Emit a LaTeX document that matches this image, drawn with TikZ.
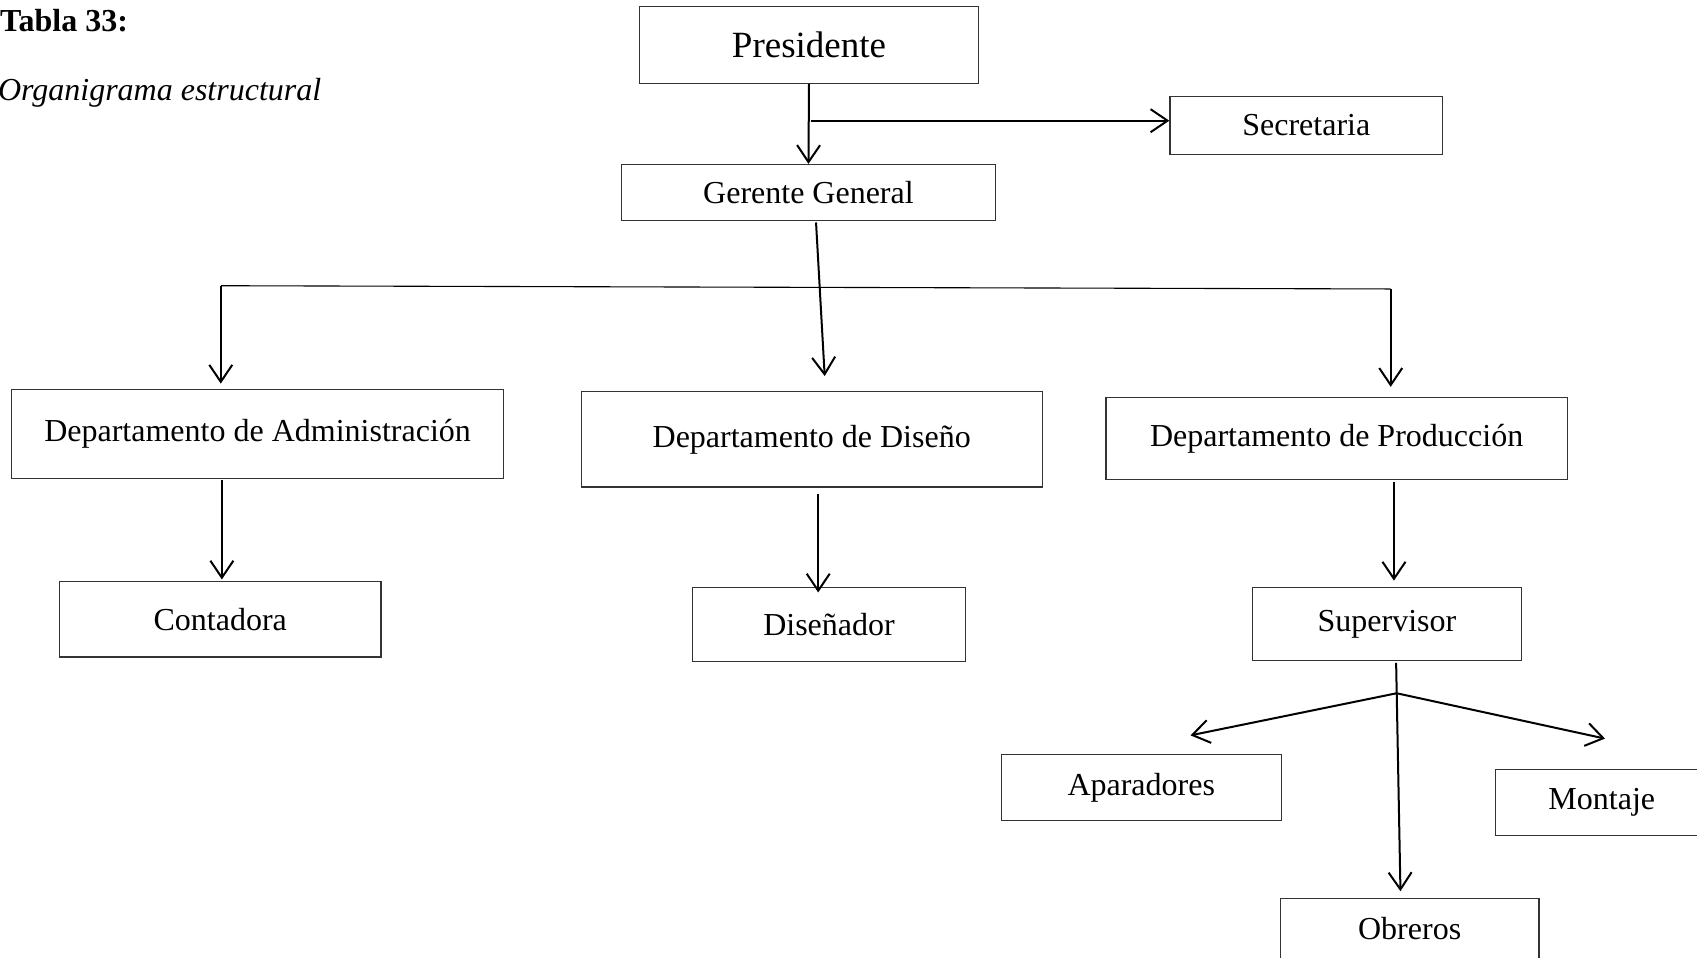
\documentclass[tikz,border=0pt]{standalone}
\usepackage{fontspec}
\setmainfont{Liberation Serif}
\usetikzlibrary{arrows.meta,calc}
\tikzset{
  box/.style={draw=black!80, line width=1.2pt, inner sep=0pt, align=center,
    font=\fontsize{32}{38}\selectfont},
  arr/.style={draw=black, line width=2pt,
    -{Straight Barb[length=17pt,width=23pt,line width=2pt]}},
  plainline/.style={draw=black, line width=2pt},
  barline/.style={draw=black, line width=1.1pt},
  titlebold/.style={font=\fontsize{32}{38}\selectfont\bfseries, inner sep=0pt},
  titleital/.style={font=\fontsize{32}{38}\selectfont\itshape, inner sep=0pt}
}
\begin{document}
\begin{tikzpicture}[x=1.0823pt, y=-1.0823pt]
\useasboundingbox (0,0) rectangle (1568,885);

% titles
\node[titlebold, anchor=base west] (t1) at (0,29) {Tabla 33:};
\node[titleital, anchor=base west] (t2) at (-2,93) {Organigrama estructural};

% boxes
\node[box, minimum width=338.8pt, minimum height=76.8pt,
      font=\fontsize{37}{44}\selectfont] (pres) at (747.5,41.5) {Presidente};
\node[box, minimum width=272.7pt, minimum height=58.4pt] (sec) at (1207,116) {Secretaria};
\node[box, minimum width=374.5pt, minimum height=56.3pt] (ger) at (747,178) {Gerente General};
\node[box, minimum width=491.4pt, minimum height=88.7pt] (adm) at (238,401) {Departamento de Administración};
\node[box, minimum width=461.1pt, minimum height=95.2pt] (dis) at (750,406) {Departamento de Diseño};
\node[box, minimum width=461.1pt, minimum height=82.3pt] (prod) at (1235,405) {Departamento de Producción};
\node[box, minimum width=321.4pt, minimum height=75.8pt] (cont) at (203.5,572) {Contadora};
\node[box, minimum width=272.7pt, minimum height=73.6pt] (dnr) at (766,577) {Diseñador};
\node[box, minimum width=269.5pt, minimum height=72.5pt] (sup) at (1281.5,576.5) {Supervisor};
\node[box, minimum width=280.3pt, minimum height=66.0pt] (apa) at (1054.5,727.5) {Aparadores};
\node[box, minimum width=212.1pt, minimum height=66.0pt] (mon) at (1480,741.5) {Montaje};
\node[box, minimum width=258.7pt, minimum height=60.6pt] (obr) at (1302.5,858) {Obreros};

% connectors
\draw[arr] (pres.south) -- (ger.north);
\coordinate (jS) at ($(pres.south)+(2,34)$);
\draw[arr] (jS) -- (jS -| sec.west);

\draw[arr] ($(ger.south)+(7,1)$) -- ($(dis.north)+(12,-14)$);

\coordinate (barL) at (204,264);
\coordinate (barR) at (1285,267);
\draw[barline] (barL) -- (barR);
\draw[arr] (barL) -- ($(barL |- adm.north)+(0,-5)$);
\draw[arr] (barR) -- ($(barR |- prod.north)+(0,-9)$);

\draw[arr] ($(adm.south)+(-33,1)$) -- ($(cont.north)+(1.5,-1)$);
\draw[arr] ($(dis.south)+(6,6)$) -- ($(dnr.north)+(-10,5)$);
\draw[arr] ($(prod.south)+(53,2)$) -- ($(sup.north)+(6.5,-6)$);

\coordinate (sp) at ($(sup.south)+(9,30)$);
\draw[arr] ($(sup.south)+(8.5,2)$) -- ($(obr.north)+(-8.5,-6)$);
\draw[arr] (sp) -- ($(apa.north)+(45.5,-17)$);
\draw[arr] (sp) -- ($(mon.north)+(3,-28)$);
\end{tikzpicture}
\end{document}
